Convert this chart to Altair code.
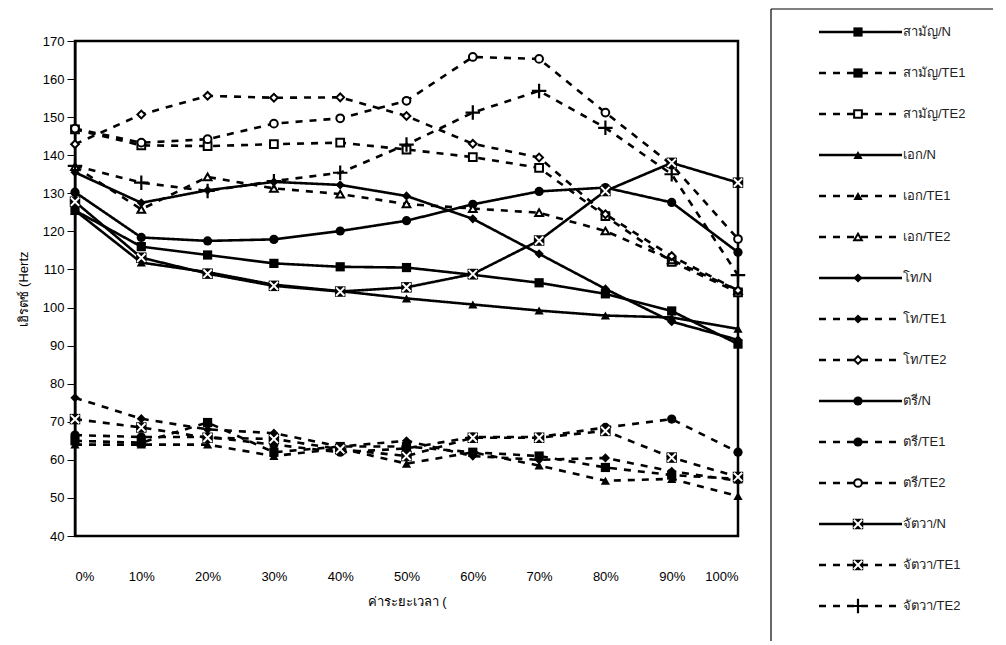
import altair as alt
import pandas as pd

# ---------------- data ----------------
x_pct = [0, 10, 20, 30, 40, 50, 60, 70, 80, 90, 100]

tones = ["สามัญ", "เอก", "โท", "ตรี", "จัตวา"]
conds = ["N", "TE1", "TE2"]

saman_N   = [125.5, 116.0, 113.8, 111.6, 110.7, 110.5, 108.6, 106.5, 103.6, 99.1, 90.4]
saman_TE1 = [65.0, 64.5, 69.8, 62.0, 63.5, 63.5, 62.0, 61.0, 58.0, 56.0, 55.0]
saman_TE2 = [146.8, 142.6, 142.4, 142.9, 143.3, 141.5, 139.5, 136.7, 124.0, 112.0, 104.0]
ek_N      = [125.5, 111.8, 109.3, 106.0, 104.3, 102.4, 100.8, 99.2, 97.9, 97.4, 94.4]
ek_TE1    = [64.0, 64.0, 64.0, 61.0, 63.0, 59.0, 62.0, 58.5, 54.5, 55.0, 50.5]
ek_TE2    = [137.0, 125.8, 134.3, 131.3, 129.8, 127.2, 126.0, 124.9, 120.1, 112.5, 104.5]
tho_N     = [135.5, 127.5, 130.8, 133.0, 132.2, 129.3, 123.3, 114.1, 104.9, 96.3, 91.5]
tho_TE1   = [76.3, 70.8, 68.0, 67.0, 63.5, 65.0, 61.0, 60.0, 60.5, 57.0, 54.5]
tho_TE2   = [142.9, 150.7, 155.6, 155.1, 155.2, 150.3, 143.0, 139.4, 124.5, 113.5, 104.5]
tri_N     = [130.3, 118.4, 117.5, 117.9, 120.1, 122.8, 127.1, 130.5, 131.5, 127.6, 114.5]
tri_TE1   = [66.5, 66.0, 66.0, 64.0, 62.0, 63.0, 66.0, 66.0, 68.5, 70.7, 62.0]
tri_TE2   = [147.0, 143.3, 144.2, 148.3, 149.7, 154.3, 165.8, 165.3, 151.2, 137.5, 118.0]
jat_N     = [127.8, 113.1, 108.9, 105.7, 104.2, 105.3, 108.8, 117.6, 130.6, 138.0, 132.8]
jat_TE1   = [70.7, 68.5, 65.8, 65.5, 62.8, 61.0, 65.8, 65.8, 67.6, 60.6, 55.5]
jat_TE2   = [137.2, 132.8, 130.6, 133.2, 135.4, 142.8, 151.2, 156.9, 147.2, 135.0, 108.5]

series_values = {
    ("สามัญ", "N"): saman_N, ("สามัญ", "TE1"): saman_TE1, ("สามัญ", "TE2"): saman_TE2,
    ("เอก", "N"): ek_N, ("เอก", "TE1"): ek_TE1, ("เอก", "TE2"): ek_TE2,
    ("โท", "N"): tho_N, ("โท", "TE1"): tho_TE1, ("โท", "TE2"): tho_TE2,
    ("ตรี", "N"): tri_N, ("ตรี", "TE1"): tri_TE1, ("ตรี", "TE2"): tri_TE2,
    ("จัตวา", "N"): jat_N, ("จัตวา", "TE1"): jat_TE1, ("จัตวา", "TE2"): jat_TE2,
}

base_shape = {"สามัญ": "sq", "เอก": "tri", "โท": "dia", "ตรี": "cir", "จัตวา": "x"}


def marker_kind(tone, cond):
    if tone == "จัตวา":
        return "x" if cond in ("N", "TE1") else "plus"
    return "filled" if cond in ("N", "TE1") else "open"


rows, leg_rows = [], []
for tone in tones:
    for cond in conds:
        label = f"{tone}/{cond}"
        kind = marker_kind(tone, cond)
        leg_rows.append({"label": label, "cond": cond, "shp": base_shape[tone], "kind": kind})
        for x, v in zip(x_pct, series_values[(tone, cond)]):
            rows.append({"x": x, "v": v, "label": label, "cond": cond,
                         "shp": base_shape[tone], "kind": kind})

df = pd.DataFrame(rows)
leg_df = pd.DataFrame(leg_rows)
labels = list(leg_df["label"])

FONT = "Liberation Sans"
DASH = alt.Scale(domain=conds, range=[[1, 0], [7, 7], [7, 7]])
SHAPE = alt.Scale(domain=["sq", "tri", "dia", "cir"],
                  range=["square", "triangle-up", "diamond", "circle"])
X_PATH = "M-1,-1L1,1M-1,1L1,-1"
PLUS_PATH = "M-1,0L1,0M0,-1L0,1"

# ---------------- main plot ----------------
X_ENC = alt.X("x:Q", scale=alt.Scale(domain=[0, 100], nice=False, zero=False),
              axis=alt.Axis(values=x_pct, labelExpr="datum.value + '%'", tickSize=0,
                            labelPadding=34, domain=False, grid=False,
                            title="ค่าระยะเวลา (", titlePadding=12,
                            titleFontWeight="normal", titleFontSize=13,
                            labelFontSize=13, labelColor="black", titleColor="black",
                            labelFont=FONT, titleFont=FONT))
Y_ENC = alt.Y("v:Q", scale=alt.Scale(domain=[40, 170], nice=False, zero=False),
              axis=alt.Axis(values=list(range(40, 171, 10)), tickSize=8, tickColor="black",
                            domainColor="black", domainWidth=2, grid=False,
                            labelPadding=3, labelFontSize=13, labelColor="black",
                            title="เฮิรตซ์ (Hertz", titleFontWeight="normal",
                            titleFontSize=13, titleColor="black", titlePadding=12,
                            labelFont=FONT, titleFont=FONT))

base = alt.Chart(df).encode(x=X_ENC, y=Y_ENC)

lines = base.mark_line(color="black", strokeWidth=2.6).encode(
    detail="label:N",
    strokeDash=alt.StrokeDash("cond:N", scale=DASH, legend=None),
)

filled_pts = base.transform_filter(alt.datum.kind == "filled").mark_point(
    filled=True, color="black", size=85, opacity=1
).encode(shape=alt.Shape("shp:N", scale=SHAPE, legend=None))

open_pts = base.transform_filter(alt.datum.kind == "open").mark_point(
    filled=True, fill="white", stroke="black", strokeWidth=2, size=60, opacity=1
).encode(shape=alt.Shape("shp:N", scale=SHAPE, legend=None))

x_back = base.transform_filter(alt.datum.kind == "x").mark_point(
    shape="square", filled=True, color="black", size=110, opacity=1)
x_front = base.transform_filter(alt.datum.kind == "x").mark_point(
    shape=X_PATH, filled=False, stroke="white", strokeWidth=2, size=70, opacity=1)
plus_pts = base.transform_filter(alt.datum.kind == "plus").mark_point(
    shape=PLUS_PATH, filled=False, stroke="black", strokeWidth=2.2, size=210, opacity=1)

plot = alt.layer(lines, filled_pts, open_pts, x_back, x_front, plus_pts).properties(
    width=663, height=495,
    view=alt.ViewBackground(stroke="black", strokeWidth=2.5),
)

# ---------------- legend panel ----------------
LEG_H = 495
L_Y = alt.Y("label:N", sort=labels, axis=None,
            scale=alt.Scale(type="point", range=[-9, 565], padding=0))
lbase = alt.Chart(leg_df).encode(y=L_Y)

l_lines = lbase.mark_rule(color="black", strokeWidth=2.6).encode(
    x=alt.value(48), x2=alt.value(131),
    strokeDash=alt.StrokeDash("cond:N", scale=DASH, legend=None))
l_filled = lbase.transform_filter(alt.datum.kind == "filled").mark_point(
    filled=True, color="black", size=85, opacity=1
).encode(x=alt.value(87), shape=alt.Shape("shp:N", scale=SHAPE, legend=None))
l_open = lbase.transform_filter(alt.datum.kind == "open").mark_point(
    filled=True, fill="white", stroke="black", strokeWidth=2, size=60, opacity=1
).encode(x=alt.value(87), shape=alt.Shape("shp:N", scale=SHAPE, legend=None))
l_xb = lbase.transform_filter(alt.datum.kind == "x").mark_point(
    shape="square", filled=True, color="black", size=110, opacity=1).encode(x=alt.value(87))
l_xf = lbase.transform_filter(alt.datum.kind == "x").mark_point(
    shape=X_PATH, filled=False, stroke="white", strokeWidth=2, size=70, opacity=1
).encode(x=alt.value(87))
l_plus = lbase.transform_filter(alt.datum.kind == "plus").mark_point(
    shape=PLUS_PATH, filled=False, stroke="black", strokeWidth=2.2, size=210, opacity=1
).encode(x=alt.value(87))
l_text = lbase.mark_text(align="left", baseline="middle", fontSize=13, font=FONT,
                         color="#222").encode(x=alt.value(132), text="label:N")

frame_df = pd.DataFrame({"k": [0]})
f_left = alt.Chart(frame_df).mark_rule(color="black", strokeWidth=1.2).encode(
    x=alt.value(0), y=alt.value(-32), y2=alt.value(600))
f_top = alt.Chart(frame_df).mark_rule(color="black", strokeWidth=1.2).encode(
    x=alt.value(0), x2=alt.value(222), y=alt.value(-32))

legend = alt.layer(f_left, f_top, l_lines, l_filled, l_open, l_xb, l_xf, l_plus, l_text
                   ).properties(
    width=222, height=LEG_H, view=alt.ViewBackground(stroke=None))

chart = alt.hconcat(plot, legend, spacing=19).properties(
    padding={"left": 8, "top": 0, "right": 0, "bottom": 0}
).configure_view(stroke=None).configure(font=FONT)

chart.save("out.html", embed_options={"renderer": "svg", "actions": False})
